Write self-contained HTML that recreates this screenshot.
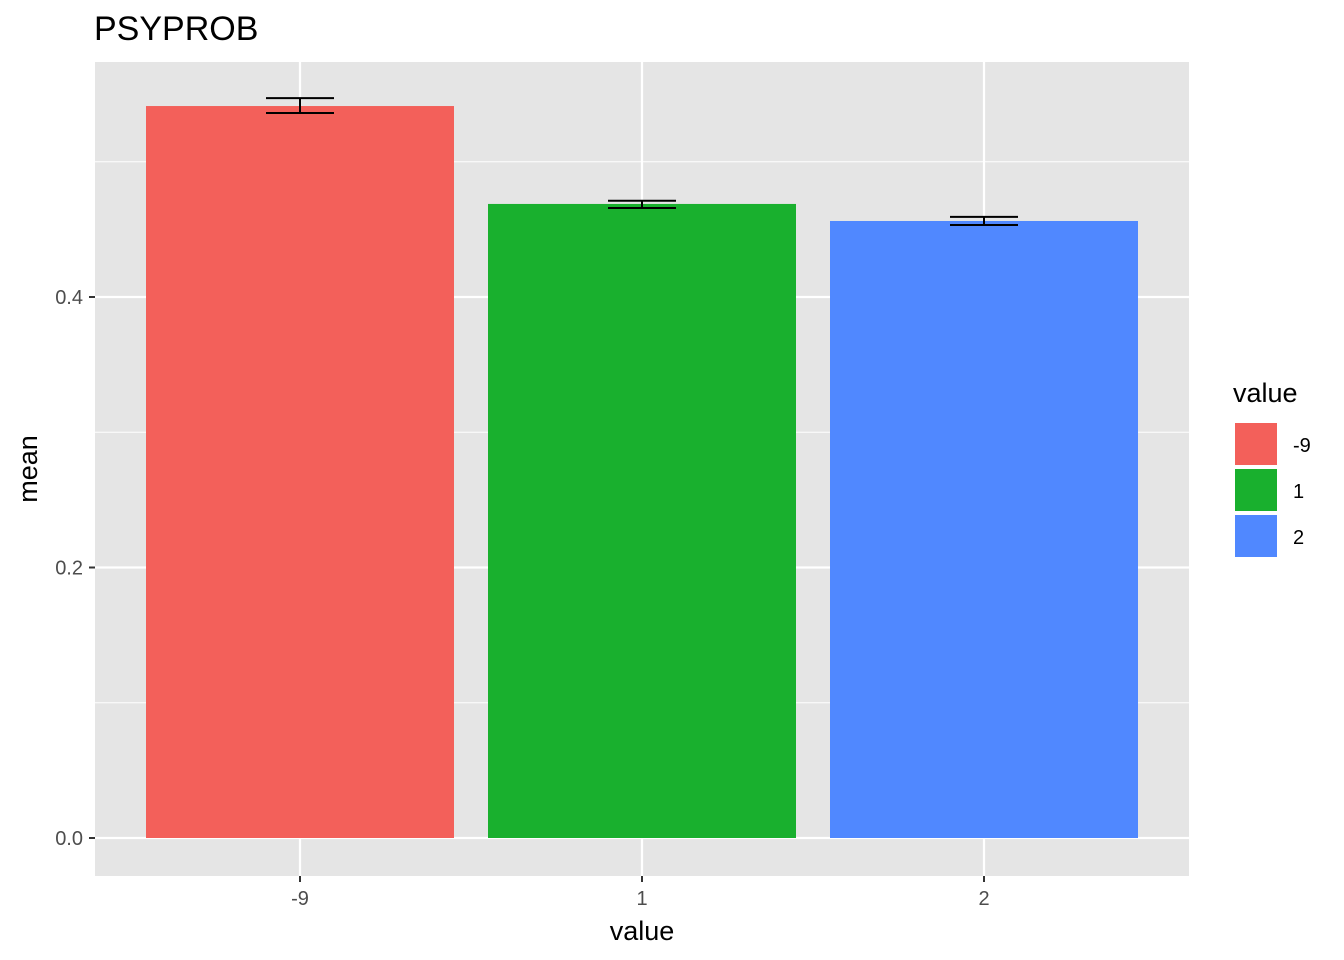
<!DOCTYPE html>
<html><head><meta charset="utf-8"><style>
html,body{margin:0;padding:0;background:#fff;}
svg{display:block;font-family:"Liberation Sans",Arial,sans-serif;}
</style></head><body>
<svg id="chart" width="1344" height="960"></svg>
<script>
const categories = ["-9","1","2"];
const means = [0.5412, 0.4688, 0.4562];
const lowers = [0.5360, 0.4658, 0.4532];
const uppers = [0.5470, 0.4712, 0.4592];
const colors = ["#F3605A","#19B02E","#5088FF"];
const yTicks = [0,0.2,0.4];
const yTickLabels = ["0.0","0.2","0.4"];
const yMinor = [0.1,0.3,0.5];

const NS="http://www.w3.org/2000/svg";
const svg=document.getElementById("chart");
const P={l:95,r:1189,t:62,b:876};
const y=v=>838-v*1352.5;
const x=i=>300+i*342;
const bw=308, cw=68;
function el(tag,attrs,parent){const e=document.createElementNS(NS,tag);for(const k in attrs)e.setAttribute(k,attrs[k]);(parent||svg).appendChild(e);return e;}

const panel=el("rect",{x:P.l,y:P.t,width:P.r-P.l,height:P.b-P.t,fill:"#E5E5E5"});


yMinor.forEach(v=>{const g=el("line",{x1:P.l,x2:P.r,y1:y(v),y2:y(v),stroke:"#fff","stroke-width":1.1});

});
yTicks.forEach((v,i)=>{const g=el("line",{x1:P.l,x2:P.r,y1:y(v),y2:y(v),stroke:"#fff","stroke-width":2.2});


const t=el("line",{x1:89,x2:95,y1:y(v),y2:y(v),stroke:"#333","stroke-width":2});


const l=el("text",{x:83,y:y(v)+7,"text-anchor":"end","font-size":20,fill:"#4D4D4D"});l.textContent=yTickLabels[i];

});
categories.forEach((c,i)=>{const g=el("line",{x1:x(i),x2:x(i),y1:P.t,y2:P.b,stroke:"#fff","stroke-width":2.2});

});
categories.forEach((c,i)=>{
const b=el("rect",{x:x(i)-bw/2,y:y(means[i]),width:bw,height:y(0)-y(means[i]),fill:colors[i]});


const e=el("path",{d:`M${x(i)-cw/2},${y(uppers[i])}H${x(i)+cw/2}M${x(i)-cw/2},${y(lowers[i])}H${x(i)+cw/2}M${x(i)},${y(uppers[i])}V${y(lowers[i])}`,stroke:"#000","stroke-width":2,fill:"none"});


const t=el("line",{x1:x(i),x2:x(i),y1:876,y2:882,stroke:"#333","stroke-width":2});


const l=el("text",{x:x(i),y:905,"text-anchor":"middle","font-size":20,fill:"#4D4D4D"});l.textContent=c;


});
const xt=el("text",{x:642,y:940,"text-anchor":"middle","font-size":27,fill:"#000"});xt.textContent="value";


const yt=el("text",{x:37,y:469,"text-anchor":"middle","font-size":27,fill:"#000",transform:"rotate(-90 37 469)"});yt.textContent="mean";


const tt=el("text",{x:94,y:40,"font-size":34,fill:"#000"});tt.textContent="PSYPROB";


const lt=el("text",{x:1233,y:402,"font-size":27,fill:"#000"});lt.textContent="value";


categories.forEach((c,i)=>{
const k=el("rect",{x:1234,y:422+i*46,width:44,height:44,fill:colors[i],stroke:"#fff","stroke-width":2});


const l=el("text",{x:1293,y:452+i*46,"font-size":20,fill:"#000"});l.textContent=c;


});
</script>
</body></html>
